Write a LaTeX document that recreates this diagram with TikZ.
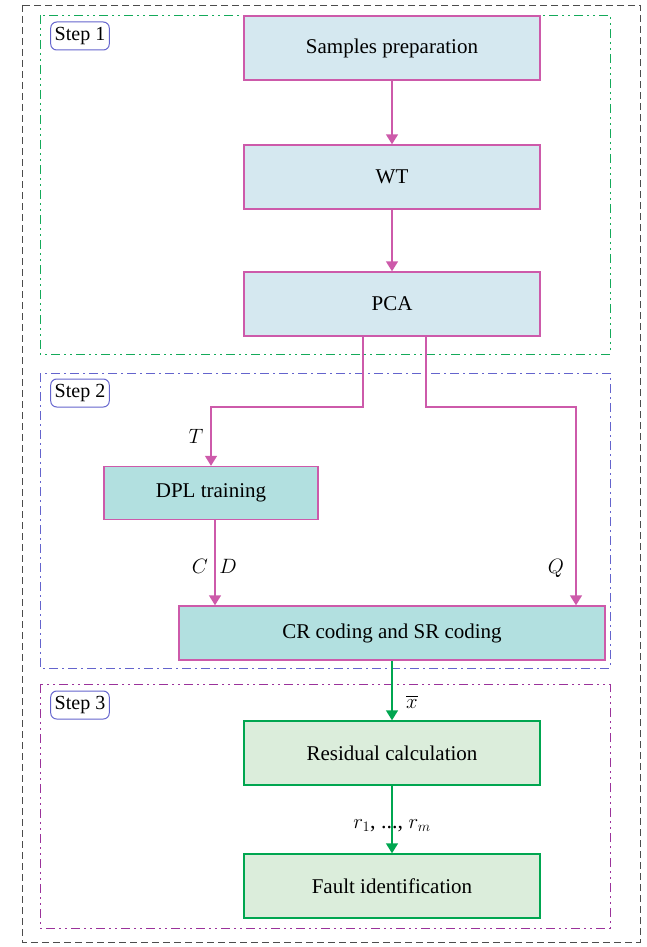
\documentclass[tikz,border=0pt]{standalone}
\usepackage{amsmath}
\usepackage{fontspec}
\setmainfont{Liberation Serif}
\usepackage{tikz}
\usetikzlibrary{arrows.meta}
\tikzset{>={Triangle[width=12pt,length=10pt]}}
\definecolor{boxpink}{RGB}{205,90,170}
\definecolor{fillblue}{RGB}{213,232,240}
\definecolor{fillteal}{RGB}{178,224,224}
\definecolor{fillgreen}{RGB}{219,237,219}
\definecolor{arrgreen}{RGB}{0,166,80}
\definecolor{stepgreen}{RGB}{20,170,90}
\definecolor{stepblue}{RGB}{100,100,205}
\definecolor{steppurple}{RGB}{155,50,155}
\tikzset{
  blk/.style={draw=boxpink, line width=1.4pt, minimum height=64pt, font=\fontsize{21}{25}\selectfont},
  tag/.style={draw=stepblue, rounded corners=6pt, line width=1pt, inner xsep=4pt, minimum height=28pt, font=\fontsize{20}{24}\selectfont},
  frm/.style={line width=0.8pt, dash pattern=on 9pt off 4pt on 2pt off 4pt on 2pt off 4pt},
  lbl/.style={font=\fontsize{22}{26}\selectfont},
}

\begin{document}
\begin{tikzpicture}[x=1pt,y=-1pt]
\useasboundingbox (0,0) rectangle (646,947);
% frames
\draw[line width=0.9pt, dash pattern=on 7pt off 4pt, black!70] (22,5) rectangle (640,942);
\draw[frm, stepgreen] (40,15) rectangle (610,354);
\draw[frm, stepblue, dash pattern=on 9pt off 4pt on 2pt off 4pt] (40,373) rectangle (610,668);
\draw[frm, steppurple] (40,684) rectangle (610,928);
\node[tag] (s1) at (80,36) {Step 1};
\node[tag] (s2) at (80,393) {Step 2};
\node[tag] (s3) at (80,705) {Step 3};

% step 1
\node[blk, fill=fillblue, minimum width=296pt] (prep) at (392,48) {Samples preparation};
\node[blk, fill=fillblue, minimum width=296pt] (wt) at (392,177) {WT};
\node[blk, fill=fillblue, minimum width=296pt] (pca) at (392,304) {PCA};
% step 2
\node[blk, fill=fillteal, minimum width=214pt, minimum height=53pt] (dpl) at (211,493) {DPL training};
\node[blk, fill=fillteal, minimum width=426pt, minimum height=54pt] (cr) at (392,633) {CR coding and SR coding};
% step 3
\node[blk, fill=fillgreen, draw=arrgreen, minimum width=296pt] (res) at (392,753) {Residual calculation};
\node[blk, fill=fillgreen, draw=arrgreen, minimum width=296pt] (fault) at (392,886) {Fault identification};

\coordinate (t1) at (363,407);
\coordinate (q1) at (426,407);

\draw[->, boxpink, line width=1.4pt] (prep) -- (wt);
\draw[->, boxpink, line width=1.4pt] (wt) -- (pca);
\draw[->, boxpink, line width=1.4pt] (pca.south -| t1) -- (t1) -| (dpl.north);
\draw[->, boxpink, line width=1.4pt] (pca.south -| q1) -- (q1) -| (cr.north -| 576,0);
\draw[->, boxpink, line width=1.4pt] (dpl.south -| 215,0) -- (cr.north -| 215,0);
\draw[->, arrgreen, line width=1.4pt] (cr) -- (res);
\draw[->, arrgreen, line width=1.4pt] (res) -- (fault);

\node[lbl] (lt) at (196,436) {$T$};
\node[lbl] (lc) at (200,566) {$C$};
\node[lbl] (ld) at (228,566) {$D$};
\node[lbl] (lq) at (556,568) {$Q$};
\node[lbl] (lx) at (412,702) {$\overline{x}$};
\node[lbl, inner sep=1pt] (lr) at (392,826) {$r_1$, ..., $r_m$};
\end{tikzpicture}
\end{document}
